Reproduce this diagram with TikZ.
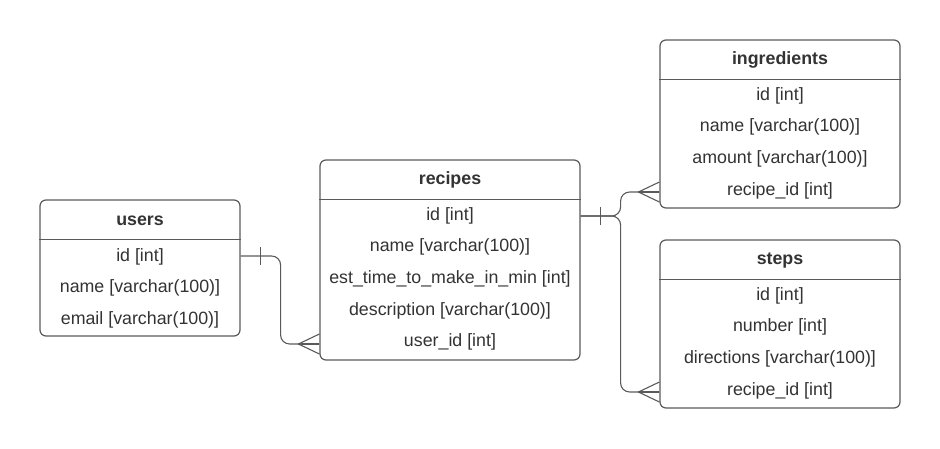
\documentclass[tikz,border=0pt]{standalone}
\usepackage{fontspec}
\setmainfont{Liberation Sans}
\usetikzlibrary{calc}
\definecolor{edge}{RGB}{90,90,90}
\definecolor{ink}{RGB}{51,51,51}
\begin{document}
\begin{tikzpicture}[x=1pt,y=-1pt,
 tbl/.style={draw=edge, line width=1.2pt, rounded corners=6pt, inner sep=0pt, fill=white},
 sepline/.style={draw=edge, line width=1.2pt},
 fld/.style={anchor=base, text=ink, font=\fontsize{17.8}{20}\selectfont, inner sep=0pt},
 hdr/.style={fld, font=\bfseries\fontsize{17.8}{20}\selectfont},
 conn/.style={draw=edge, line width=1.1pt, rounded corners=9pt},
 tick/.style={draw=edge, line width=1.1pt},
]
\useasboundingbox (0,0) rectangle (940,448);

% users
\node[tbl, minimum width=200pt, minimum height=136pt] (users) at (140,268) {};
\draw[sepline] ($(users.north west)+(0,40)$) -- ($(users.north east)+(0,40)$);
\node[hdr] (usersH) at (140,225) {users};
\node[fld] (u1) at (140,261) {id [int]};
\node[fld] (u2) at (140,292.7) {name [varchar(100)]};
\node[fld] (u3) at (140,324.4) {email [varchar(100)]};

% recipes
\node[tbl, minimum width=260pt, minimum height=200pt] (recipes) at (450,260) {};
\draw[sepline] ($(recipes.north west)+(0,40)$) -- ($(recipes.north east)+(0,40)$);
\node[hdr] (recipesH) at (450,184) {recipes};
\node[fld] (r1) at (450,220) {id [int]};
\node[fld] (r2) at (450,251.7) {name [varchar(100)]};
\node[fld] (r3) at (450,283.4) {est\_time\_to\_make\_in\_min [int]};
\node[fld] (r4) at (450,315.1) {description [varchar(100)]};
\node[fld] (r5) at (450,346.8) {user\_id [int]};

% ingredients
\node[tbl, minimum width=240pt, minimum height=168pt] (ingr) at (780,124) {};
\draw[sepline] ($(ingr.north west)+(0,40)$) -- ($(ingr.north east)+(0,40)$);
\node[hdr] (ingrH) at (780,64) {ingredients};
\node[fld] (i1) at (780,100) {id [int]};
\node[fld] (i2) at (780,131.7) {name [varchar(100)]};
\node[fld] (i3) at (780,163.4) {amount [varchar(100)]};
\node[fld] (i4) at (780,195.1) {recipe\_id [int]};

% steps
\node[tbl, minimum width=240pt, minimum height=168pt] (steps) at (780,324) {};
\draw[sepline] ($(steps.north west)+(0,40)$) -- ($(steps.north east)+(0,40)$);
\node[hdr] (stepsH) at (780,264) {steps};
\node[fld] (s1) at (780,300) {id [int]};
\node[fld] (s2) at (780,331.7) {number [int]};
\node[fld] (s3) at (780,363.4) {directions [varchar(100)]};
\node[fld] (s4) at (780,395.1) {recipe\_id [int]};

% attachment points
\coordinate (uOut) at ($(users.east)+(0,-12)$);
\coordinate (rIn) at ($(recipes.west)+(0,84)$);
\coordinate (rOut) at ($(recipes.east)+(0,-44)$);
\coordinate (iIn) at ($(ingr.west)+(0,68)$);
\coordinate (sIn) at ($(steps.west)+(0,68)$);

% users -> recipes
\draw[conn] (uOut) -- ++(40,0) |- (rIn);
\draw[tick] ($(uOut)+(20,-9)$) -- ($(uOut)+(20,9)$);
\draw[tick] ($(rIn)+(-21,0)$) -- ($(rIn)+(0,-10)$);
\draw[tick] ($(rIn)+(-21,0)$) -- (rIn);
\draw[tick] ($(rIn)+(-21,0)$) -- ($(rIn)+(0,10)$);

% recipes -> ingredients / steps
\draw[conn] (rOut) -- ++(40,0) |- (iIn);
\draw[conn] (rOut) -- ++(40,0) |- (sIn);
\draw[tick] ($(rOut)+(20,-9)$) -- ($(rOut)+(20,9)$);
\draw[tick] ($(iIn)+(-21,0)$) -- ($(iIn)+(0,-10)$);
\draw[tick] ($(iIn)+(-21,0)$) -- (iIn);
\draw[tick] ($(iIn)+(-21,0)$) -- ($(iIn)+(0,10)$);
\draw[tick] ($(sIn)+(-21,0)$) -- ($(sIn)+(0,-10)$);
\draw[tick] ($(sIn)+(-21,0)$) -- (sIn);
\draw[tick] ($(sIn)+(-21,0)$) -- ($(sIn)+(0,10)$);
\end{tikzpicture}
\end{document}
